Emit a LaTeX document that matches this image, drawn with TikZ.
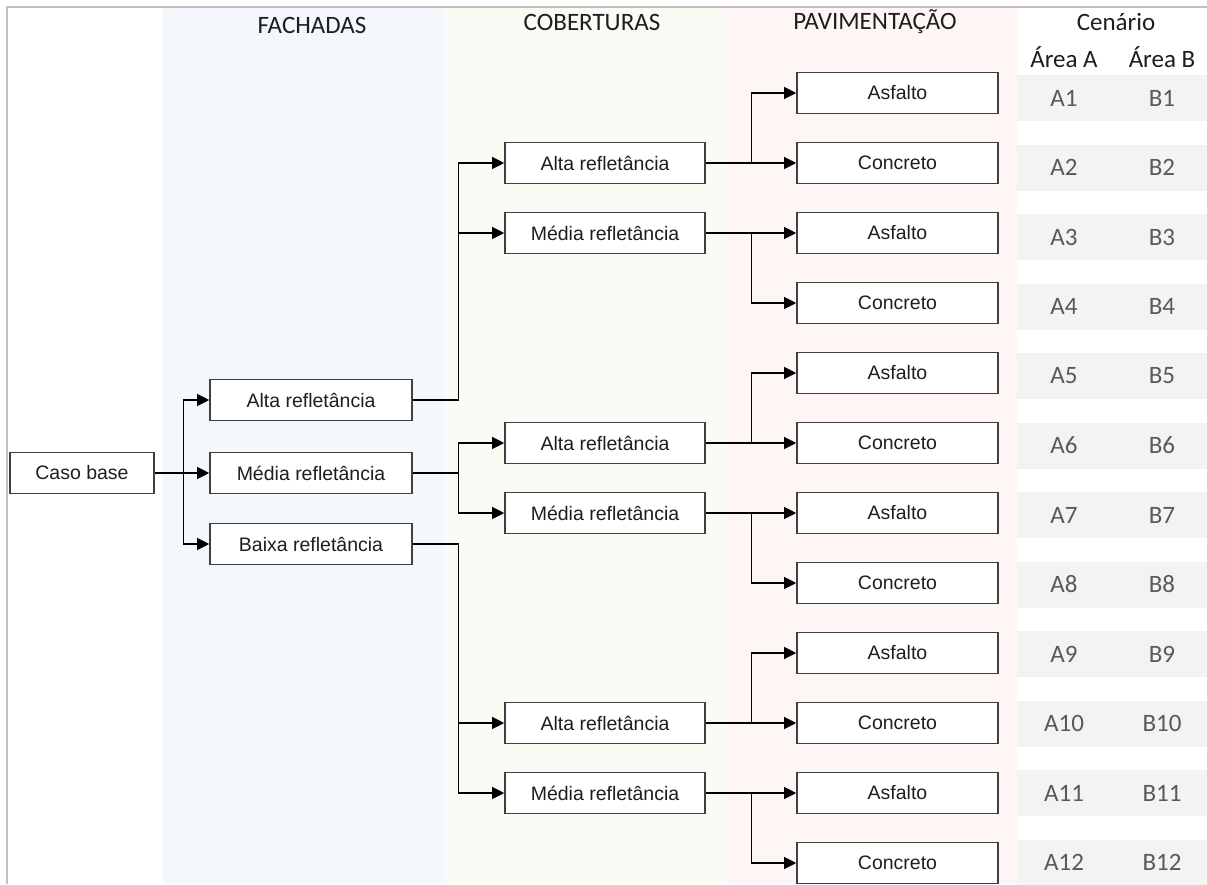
\documentclass[tikz,border=0pt]{standalone}
\usepackage{fontspec}
\setmainfont{Carlito}
\newfontfamily\boxfont{Liberation Sans}
\usetikzlibrary{arrows.meta}

\definecolor{bandblue}{RGB}{244,248,252}
\definecolor{bandgreen}{RGB}{250,251,245}
\definecolor{bandpink}{RGB}{254,246,244}
\definecolor{cellgrey}{RGB}{243,243,243}
\definecolor{framegrey}{RGB}{192,192,192}
\definecolor{boxline}{RGB}{64,64,64}
\definecolor{headtext}{RGB}{30,30,30}
\definecolor{celltext}{RGB}{89,89,89}

\tikzset{
    optbox/.style={draw=boxline, line width=1.6pt, fill=white, minimum height=41pt,
        inner sep=0pt, text=headtext, font=\boxfont\fontsize{19.5}{22}\selectfont},
    heading/.style={text=headtext, font=\fontsize{25}{28}\selectfont},
    celltxt/.style={text=celltext, font=\fontsize{25}{28}\selectfont},
    arr/.style={line width=1.1pt, -{Triangle[length=12pt, width=12pt]}},
}

\begin{document}
\begin{tikzpicture}[x=1pt, y=-1pt]
    \useasboundingbox (0,0) rectangle (1207,884);

    % column bands
    \fill[bandblue] (163,8) rectangle (445,884);
    \fill[bandgreen] (445,8) rectangle (726,884);
    \fill[bandpink] (726,8) rectangle (1017,884);
    \draw[framegrey, line width=1.5pt] (7,884) -- (7,7) -- (1207,7);

    % headings
    \node [heading] (hfac) at (312,25) {FACHADAS};
    \node [heading] (hcob) at (592,22) {COBERTURAS};
    \node [heading] (hpav) at (875,22) {PAVIMENTAÇÃO};
    \node [heading] (hcen) at (1116,22) {Cenário};
    \node [heading] (hareaA) at (1064,57) {Área A};
    \node [heading] (hareaB) at (1162,57) {Área B};

    % scenario table
    \foreach \i in {1,...,12} {
        \fill[cellgrey] (1017,{75+69.5*(\i-1)}) rectangle (1207,{121+69.5*(\i-1)});
        \node [celltxt] (sa\i) at (1064,{98+69.5*(\i-1)}) {A\i};
        \node [celltxt] (sb\i) at (1162,{98+69.5*(\i-1)}) {B\i};
    }

    % pavements
    \foreach \i/\lbl in {1/Asfalto,2/Concreto,3/Asfalto,4/Concreto,5/Asfalto,6/Concreto,
                        7/Asfalto,8/Concreto,9/Asfalto,10/Concreto,11/Asfalto,12/Concreto}
        \node [optbox, minimum width=201pt] (p\i) at (897.5,{93+70*(\i-1)}) {\lbl};

    % roofs
    \node [optbox, minimum width=200pt] (c1A) at (605,163) {Alta refletância};
    \node [optbox, minimum width=200pt] (c1M) at (605,233) {Média refletância};
    \node [optbox, minimum width=200pt] (c2A) at (605,443) {Alta refletância};
    \node [optbox, minimum width=200pt] (c2M) at (605,513) {Média refletância};
    \node [optbox, minimum width=200pt] (c3A) at (605,723) {Alta refletância};
    \node [optbox, minimum width=200pt] (c3M) at (605,793) {Média refletância};

    % facades
    \node [optbox, minimum width=202pt] (fA) at (311,400) {Alta refletância};
    \node [optbox, minimum width=202pt] (fM) at (311,473) {Média refletância};
    \node [optbox, minimum width=202pt] (fB) at (311,544) {Baixa refletância};

    \node [optbox, minimum width=144pt] (caso) at (82,473) {Caso base};

    % connectors
    \draw [arr] (caso.east) -- ++(29,0) |- (fA.west);
    \draw [arr] (caso.east) -- (fM.west);
    \draw [arr] (caso.east) -- ++(29,0) |- (fB.west);

    \draw [arr] (fA.east) -- ++(46,0) |- (c1A.west);
    \draw [arr] (fA.east) -- ++(46,0) |- (c1M.west);
    \draw [arr] (fM.east) -- ++(46,0) |- (c2A.west);
    \draw [arr] (fM.east) -- ++(46,0) |- (c2M.west);
    \draw [arr] (fB.east) -- ++(46,0) |- (c3A.west);
    \draw [arr] (fB.east) -- ++(46,0) |- (c3M.west);

    \draw [arr] (c1A.east) -- ++(46,0) |- (p1.west);
    \draw [arr] (c1A.east) -- (p2.west);
    \draw [arr] (c1M.east) -- (p3.west);
    \draw [arr] (c1M.east) -- ++(46,0) |- (p4.west);
    \draw [arr] (c2A.east) -- ++(46,0) |- (p5.west);
    \draw [arr] (c2A.east) -- (p6.west);
    \draw [arr] (c2M.east) -- (p7.west);
    \draw [arr] (c2M.east) -- ++(46,0) |- (p8.west);
    \draw [arr] (c3A.east) -- ++(46,0) |- (p9.west);
    \draw [arr] (c3A.east) -- (p10.west);
    \draw [arr] (c3M.east) -- (p11.west);
    \draw [arr] (c3M.east) -- ++(46,0) |- (p12.west);
\end{tikzpicture}
\end{document}
